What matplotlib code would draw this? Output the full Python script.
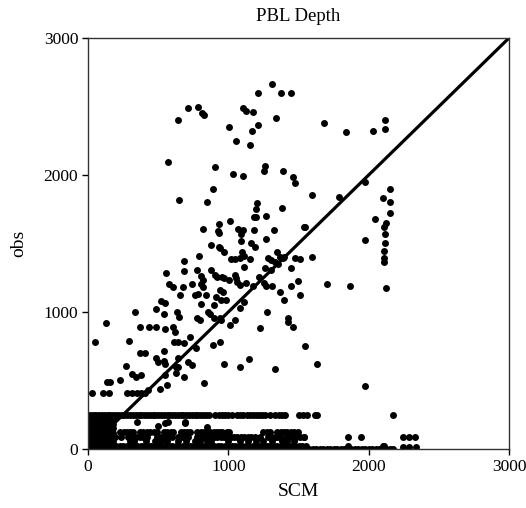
import matplotlib
matplotlib.use('Agg')
import matplotlib.pyplot as plt

plt.rcParams['font.family'] = ['Liberation Serif', 'DejaVu Serif']

# scattered points (SCM, obs)
pts_upper = [(1312, 2662), (1210, 2596), (1374, 2596), (1448, 2596), (714, 2489), (781, 2499),
             (811, 2450), (826, 2436), (640, 2399), (1107, 2489), (1129, 2469), (1176, 2460),
             (1338, 2418), (1002, 2348), (1210, 2367), (1169, 2319), (1057, 2250), (1157, 2216),
             (571, 2097), (902, 2061), (1033, 2009), (1107, 1990), (1264, 2068), (1252, 2031),
             (1388, 2031), (1460, 1983), (1474, 1939), (890, 1900), (652, 1820), (850, 1800),
             (1205, 1793), (1195, 1752), (1181, 1691), (1198, 1691), (1267, 1701), (1383, 1762),
             (1012, 1662), (931, 1642), (926, 1589), (931, 1574), (821, 1608), (1067, 1608),
             (1107, 1599), (1093, 1569), (1090, 1520), (1183, 1599), (1326, 1599), (1267, 1530),
             (1540, 1618), (874, 1487), (936, 1472), (1164, 1501), (1193, 1477)]

pts_right = [(1681, 2380), (1840, 2311), (2033, 2324), (2114, 2399), (2114, 2338), (1974, 1947),
             (2152, 1900), (2105, 1832), (2152, 1801), (2152, 1725), (1593, 1852), (1786, 1839),
             (1543, 1623), (2048, 1681), (2121, 1652), (2110, 1623), (2114, 1572), (2114, 1501),
             (1971, 1526), (2110, 1445), (2110, 1392), (2112, 1363), (1598, 1404), (1700, 1202),
             (1867, 1192), (2124, 1173), (1629, 623), (1974, 462)]

pts_mid = [(793, 1411), (686, 1372), (686, 1302), (559, 1282), (776, 1304), (805, 1263), (574, 1202),
           (605, 1185), (676, 1185), (743, 1202), (805, 1202), (655, 1121), (762, 1121), (783, 1134),
           (805, 1056), (519, 1083), (548, 1063), (338, 1002), (488, 1022), (538, 983), (631, 1002),
           (648, 964), (776, 954), (800, 942), (131, 917), (852, 1000), (938, 1470), (966, 1440),
           (1100, 1440), (1110, 1411), (1086, 1392), (1019, 1387), (1048, 1387), (1152, 1387),
           (1281, 1392), (1305, 1380), (1348, 1440), (1367, 1404), (1386, 1392), (1400, 1404),
           (1333, 1367), (1352, 1348), (1476, 1392), (1509, 1387), (1448, 1323), (1110, 1328),
           (1262, 1323), (1305, 1304), (876, 1304), (905, 1270), (919, 1258), (952, 1258), (971, 1250),
           (1048, 1270), (1057, 1246), (1062, 1217), (1081, 1197), (1005, 1234), (1124, 1209),
           (1176, 1192), (1219, 1258), (1252, 1209), (1267, 1192), (1314, 1192), (1371, 1144),
           (1443, 1192), (1495, 1226), (1514, 1124), (1395, 1085), (819, 1231), (819, 1185),
           (838, 1124), (943, 1160), (962, 1144), (909, 1112), (948, 1088), (981, 1088), (895, 1051),
           (871, 988), (1110, 1071), (1086, 1032), (1276, 998), (1424, 954), (943, 959), (948, 942),
           (1048, 942), (895, 954)]

pts_low = [(369, 888), (436, 888), (488, 893), (552, 874), (607, 893), (619, 856), (48, 783), (295, 791),
           (614, 783), (638, 783), (686, 771), (724, 820), (771, 735), (369, 703), (405, 703), (543, 718),
           (488, 662), (500, 637), (538, 645), (548, 620), (638, 662), (624, 601), (643, 601), (714, 637),
           (743, 613), (271, 606), (314, 547), (343, 528), (381, 540), (552, 540), (629, 552), (686, 523),
           (231, 504), (157, 491), (133, 491), (824, 484), (512, 435), (562, 467), (429, 431),
           (890, 759), (943, 781), (1010, 905), (1224, 883), (1424, 929), (1462, 888), (1543, 752),
           (971, 620), (1086, 596), (1145, 657), (1329, 582),
           (352, 200), (500, 168), (571, 200), (690, 200), (845, 163), (550, 187), (693, 187)]

# rows of points that sit on (almost) the same obs value
row410_x = [30, 105, 150, 280, 315, 350, 380, 405]
row250_x = [0, 20, 40, 60, 80, 100, 120, 140, 160, 180, 200, 220, 240, 260, 280, 300, 320, 340,
            360, 380, 400, 420, 440, 460, 480, 500, 520, 540, 560, 580, 600, 620, 640, 660, 680,
            700, 720, 740, 760, 780, 800, 820, 840, 860, 907, 930, 952, 975, 1000, 1026, 1062,
            1085, 1108, 1130, 1152, 1175, 1198, 1220, 1242, 1264, 1300, 1336, 1360, 1383, 1405,
            1502, 1533, 1557, 1614, 1633, 2171]
row125_x = [230, 255, 280, 300, 320, 370, 395, 420, 445, 470, 490, 540, 565, 590, 605, 660, 685,
            705, 730, 780, 805, 830, 850, 871, 895, 920, 943, 955, 993, 1002, 1250, 1275, 1300,
            1350, 1375, 1400, 1420, 1445, 1470, 1493]
row85_x = [0, 25, 50, 75, 160, 190, 238, 286, 320, 345, 370, 395, 420, 495, 520, 545, 570, 600,
           643, 660, 685, 710, 780, 805, 830, 850, 871, 895, 920, 945, 970, 995, 1020, 1040, 1065,
           1090, 1115, 1140, 1165, 1190, 1229, 1280, 1305, 1330, 1350, 1371, 1410, 1435, 1460,
           1480, 1510, 1536, 1538, 1855, 1943, 2243, 2288, 2333]
row55_x = [300, 330, 410, 480, 520, 560, 640, 700, 760, 800, 850, 880, 1000, 1080, 1140, 1200,
           1250, 1310, 1380, 1420, 1470]
row25_x = [0, 25, 50, 75, 100, 125, 150, 175, 200, 225, 250, 275, 300, 325, 350, 375, 400, 425,
           450, 475, 500, 525, 550, 575, 600, 625, 650, 675, 700, 725, 750, 775, 800, 825, 850,
           875, 900, 925, 950, 975, 1000, 1025, 1050, 1075, 1100, 1125, 1150, 1175, 1200, 1225,
           1250, 1275, 1300, 1325, 1350, 1375, 1400, 1425, 1450, 1475, 1500, 1525, 1550, 1850,
           2100, 2110]
row0_x = [0, 25, 50, 75, 100, 125, 150, 175, 200, 225, 250, 275, 300, 325, 350, 375, 400, 425,
          450, 475, 500, 525, 550, 575, 600, 625, 650, 675, 700, 725, 750, 775, 800, 825, 850,
          875, 900, 925, 950, 975, 1000, 1025, 1050, 1075, 1100, 1125, 1150, 1175, 1200, 1225,
          1250, 1275, 1300, 1325, 1350, 1375, 1400, 1425, 1450, 1475, 1500, 1525, 1550, 1575,
          1600, 1625, 1650, 1675, 1700, 1725, 1750, 1775, 1800, 1825, 1850, 1875, 1900, 1925,
          1950, 1975, 2000, 2025, 2050, 2075, 2100, 2125, 2150, 2175]
row12_x = [2245, 2290, 2335]
# dense block near the origin
block_x = [0, 20, 40, 60, 80, 100, 120, 140, 160, 180]
block_y = [60, 90, 120, 150, 180, 210]

line_x = [170, 3000]
line_y = [170, 3000]

xs = [p[0] for p in pts_upper + pts_right + pts_mid + pts_low]
ys = [p[1] for p in pts_upper + pts_right + pts_mid + pts_low]
for yv, row in [(410, row410_x), (250, row250_x), (125, row125_x), (85, row85_x),
                (55, row55_x), (25, row25_x), (0, row0_x), (12, row12_x)]:
    xs += row
    ys += [yv] * len(row)
for yv in block_y:
    xs += block_x
    ys += [yv] * len(block_x)

fig = plt.figure(figsize=(5.26, 5.08), dpi=100)
ax = fig.add_axes([0.1673, 0.1161, 0.8004, 0.8091])
ax.scatter(xs, ys, s=25, c='black', linewidths=0)
ax.plot(line_x, line_y, color='black', lw=2.3)
ax.set_xlim(0, 3000)
ax.set_ylim(0, 3000)
ax.set_xticks([0, 1000, 2000, 3000])
ax.set_yticks([0, 1000, 2000, 3000])
ax.tick_params(direction='out', length=4, width=1, labelsize=12.5, pad=3)
for sp in ax.spines.values():
    sp.set_linewidth(1)
    sp.set_color('#333333')
ax.set_xlabel('SCM', fontsize=14, labelpad=6)
ax.set_ylabel('obs', fontsize=14, labelpad=12)
ax.set_title('PBL Depth', fontsize=13.5, pad=12)
plt.savefig('out.png', dpi=100)
